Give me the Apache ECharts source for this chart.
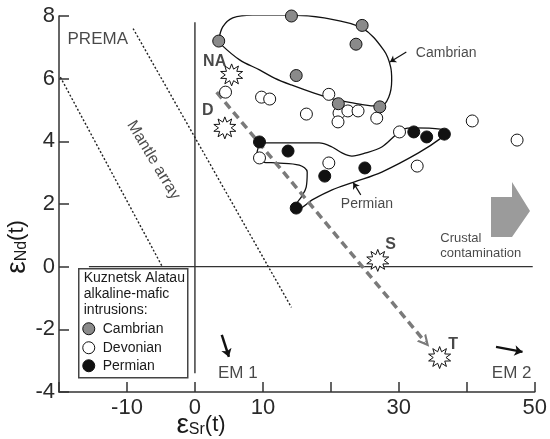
<!DOCTYPE html>
<html>
<head>
<meta charset="utf-8">
<script src="https://cdn.jsdelivr.net/npm/echarts@6/dist/echarts.min.js"></script>
<style>
  html, body { margin: 0; padding: 0; background: #fff; }
  #chart { width: 550px; height: 439px; }
</style>
</head>
<body>
<div id="chart"></div>
<script>
// eSr(t) / eNd(t) values
const cambrian = [[3.5, 7.2], [14.2, 8.0], [14.9, 6.1], [24.6, 7.7], [23.7, 7.1], [21.1, 5.2], [27.2, 5.1]];
const devonian = [
    [4.5, 5.57], [9.8, 5.41], [11.0, 5.35], [16.4, 4.87], [19.7, 5.5], [21.2, 4.9], [22.5, 4.97],
    [24.0, 4.97], [21.05, 4.62], [26.75, 4.74], [30.1, 4.3], [40.8, 4.65], [47.4, 4.04],
    [32.7, 3.21], [19.7, 3.31], [9.5, 3.47]
];
const permian = [[9.5, 3.98], [13.7, 3.69], [14.9, 1.87], [19.1, 2.89], [25.0, 3.15], [32.2, 4.3], [34.1, 4.14], [36.7, 4.23]];

// outlines of the Cambrian and Permian fields
const cambrianField = [
    [3.51, 7.23], [4.09, 7.65], [5.56, 7.94], [8.48, 8.03], [11.7, 8.03], [14.18, 8.03], [19.01, 7.94],
    [24.56, 7.62], [27.78, 6.91], [28.8, 6.37], [28.95, 5.96], [28.51, 5.41], [27.34, 5.13], [26.32, 5.13],
    [23.39, 5.22], [20.91, 5.32], [17.54, 5.54], [14.18, 5.8], [11.7, 6.02], [9.5, 6.28], [6.58, 6.6],
    [3.95, 7.07], [3.51, 7.23]
];
const permianField = [
    [9.5, 3.95], [13.89, 3.95], [18.27, 3.95], [20.18, 3.82], [21.64, 3.63], [23.1, 3.53], [25.15, 3.63],
    [27.49, 3.82], [29.53, 4.2], [30.7, 4.39], [32.16, 4.43], [36.11, 4.39], [36.84, 4.27], [36.26, 4.11],
    [32.89, 3.63], [27.49, 3.02], [23.39, 2.7], [20.18, 2.45], [17.25, 2.13], [15.35, 1.87], [14.91, 1.97],
    [15.64, 2.22], [16.37, 2.54], [16.52, 3.02], [15.35, 3.24], [11.99, 3.31], [9.94, 3.34], [9.06, 3.5],
    [9.5, 3.95]
];

// mantle array bounds and reference lines
const mantleLow = [[-19.8, 6.05], [-4.8, 0]];
const mantleHigh = [[-9.1, 7.6], [14.2, -1.3]];
const zeroSr = [[0, 7.8], [0, -3.4]];
const zeroNd = [[-15.6, 0], [49.7, 0]];

// end members (stars)
const endMembers = [['NA', 5.4, 6.12], ['D', 4.4, 4.43], ['S', 26.9, 0.2], ['T', 36.0, -2.9]];

// arrows: [from, to]
const trendArrow = [[3.2, 5.57], [33.9, -2.41]];
const em1Arrow = [[3.95, -2.18], [5.0, -2.88]];
const em2Arrow = [[44.3, -2.56], [48.2, -2.72]];
const cambrianPointer = [[31.1, 6.85], [28.7, 6.53]];
const permianPointer = [[24.4, 2.29], [23.3, 2.68]];

const xTickLabels = ['-10', '0', '10', '30', '50'];

const font = 'Liberation Sans, Arial, sans-serif';
const ink = '#1a1a1a';

// text annotations, anchored in data space
const notes = [
    { text: 'PREMA', at: [-14.3, 7.27], size: 17 },
    { text: 'Mantle array', at: [-6.1, 3.4], size: 16, rotate: -59 },
    { text: 'Cambrian', at: [32.5, 6.82], size: 14, align: 'left' },
    { text: 'Permian', at: [25.3, 2.0], size: 14 },
    { text: 'Crustal\ncontamination', at: [36.1, 0.67], size: 13, align: 'left', lineHeight: 15 },
    { text: 'EM 1', at: [6.3, -3.4], size: 17 },
    { text: 'EM 2', at: [46.6, -3.4], size: 17 },
    { text: 'NA', at: [2.9, 6.56], size: 16, bold: true },
    { text: 'D', at: [1.9, 4.97], size: 16, bold: true },
    { text: 'S', at: [28.8, 0.72], size: 16, bold: true },
    { text: 'T', at: [38.0, -2.5], size: 16, bold: true }
];

const starPath = (points, inner) => {
    let d = '';
    for (let i = 0; i < points * 2; i++) {
        const a = Math.PI * i / points - Math.PI / 2;
        const r = i % 2 ? inner : 1;
        d += (i ? 'L' : 'M') + (10 + 10 * r * Math.cos(a)).toFixed(2) + ',' + (10 + 10 * r * Math.sin(a)).toFixed(2);
    }
    return 'path://' + d + 'Z';
};
const chevron = 'path://M0,11 L6,0 L12,11 L9.6,11 L6,4.4 L2.4,11 Z';

const polyline = (data, style) => ({
    type: 'line',
    data: data,
    showSymbol: false,
    symbol: 'none',
    silent: true,
    lineStyle: style,
    z: 2
});

const arrow = (coords, color, width, head, size) => ({
    type: 'lines',
    coordinateSystem: 'cartesian2d',
    silent: true,
    symbol: ['none', head],
    symbolSize: size,
    lineStyle: { color: color, width: width, opacity: 1, type: 'solid' },
    data: [{ coords: coords }],
    z: 3
});

const dots = (data, fill) => ({
    type: 'scatter',
    data: data,
    symbol: 'circle',
    symbolSize: 12,
    silent: true,
    itemStyle: { color: fill, borderColor: '#111', borderWidth: 1, opacity: 1 },
    z: 5
});

const chart = echarts.init(document.getElementById('chart'));

const trend = arrow(trendArrow, '#7a7a7a', 3.5, chevron, [13, 12]);
trend.lineStyle.type = [8, 5];

const axisTitle = (sub) => ({
    text: '{e|ε}{s|' + sub + '}{p|(t)}', align: 'center', verticalAlign: 'middle', fill: ink,
    rich: {
        e: { fontSize: 28, fontFamily: font, fill: ink },
        s: { fontSize: 16, fontFamily: font, fill: ink, padding: [10, 0, 0, 0] },
        p: { fontSize: 22, fontFamily: font, fill: ink }
    }
});

const legendText = (text, x, y) => ({
    type: 'text', x: x, y: y,
    style: { text: text, fontSize: 14, fontFamily: font, fill: ink, verticalAlign: 'middle' }
});

chart.setOption({
    animation: false,
    grid: { left: 59, right: 13, top: 16, bottom: 47 },
    xAxis: {
        type: 'value',
        min: -20,
        max: 50,
        interval: 10,
        splitLine: { show: false },
        axisLine: { onZero: false, lineStyle: { color: '#333', width: 1.5 } },
        axisTick: { inside: true, length: 10, lineStyle: { color: '#333', width: 1.5 } },
        axisLabel: {
            margin: 5,
            fontSize: 22,
            fontFamily: font,
            color: '#2a2a2a',
            formatter: v => xTickLabels.includes(String(v)) ? String(v) : ''
        }
    },
    yAxis: {
        type: 'value',
        min: -4,
        max: 8,
        interval: 2,
        splitLine: { show: false },
        axisLine: { onZero: false, lineStyle: { color: '#333', width: 1.5 } },
        axisTick: { inside: true, length: 10, lineStyle: { color: '#333', width: 1.5 } },
        axisLabel: { margin: 4, fontSize: 22, fontFamily: font, color: '#2a2a2a' }
    },
    graphic: [
        { type: 'text', x: 17, y: 247, rotation: Math.PI / 2, style: axisTitle('Nd') },
        { type: 'text', x: 201, y: 425, style: axisTitle('Sr') },
        // crustal contamination arrow
        {
            type: 'polygon',
            shape: { points: [[491, 197], [512, 197], [512, 182], [530, 211], [512, 237], [491, 237]] },
            style: { fill: '#9b9b9b' },
            z: 1
        },
        // legend box
        {
            type: 'group', left: 78, top: 268,
            children: [
                { type: 'rect', shape: { x: 0, y: 0, width: 109, height: 109 }, style: { fill: '#fff', stroke: '#444', lineWidth: 1.5 } },
                legendText('Kuznetsk Alatau', 5, 9),
                legendText('alkaline-mafic', 5, 25),
                legendText('intrusions:', 5, 41),
                { type: 'circle', shape: { cx: 10, cy: 60, r: 6 }, style: { fill: '#8a8a8a', stroke: '#111', lineWidth: 1 } },
                { type: 'circle', shape: { cx: 10, cy: 79, r: 6 }, style: { fill: '#fff', stroke: '#111', lineWidth: 1 } },
                { type: 'circle', shape: { cx: 10, cy: 97, r: 6 }, style: { fill: '#111', stroke: '#111', lineWidth: 1 } },
                legendText('Cambrian', 24, 60),
                legendText('Devonian', 24, 79),
                legendText('Permian', 24, 97)
            ],
            z: 10
        }
    ],
    series: [
        polyline(zeroSr, { color: '#222', width: 1.3 }),
        polyline(zeroNd, { color: '#333', width: 1.3 }),
        polyline(mantleLow, { color: '#222', width: 1.4, type: [2, 2] }),
        polyline(mantleHigh, { color: '#222', width: 1.4, type: [2, 2] }),
        Object.assign(polyline(cambrianField, { color: '#111', width: 1.3 }), { smooth: 0.35 }),
        Object.assign(polyline(permianField, { color: '#111', width: 1.3 }), { smooth: 0.35 }),
        trend,
        arrow(em1Arrow, '#111', 2.5, 'arrow', 8),
        arrow(em2Arrow, '#111', 2.5, 'arrow', 8),
        arrow(cambrianPointer, '#111', 1.2, 'arrow', 6),
        arrow(permianPointer, '#111', 1.2, 'arrow', 6),
        dots(devonian, '#fff'),
        dots(cambrian, '#8a8a8a'),
        dots(permian, '#111'),
        {
            type: 'scatter',
            data: endMembers.map(d => [d[1], d[2]]),
            symbol: starPath(10, 0.55),
            symbolSize: 22,
            silent: true,
            itemStyle: { color: '#fff', borderColor: '#111', borderWidth: 1, opacity: 1 },
            z: 6
        },
        {
            type: 'scatter',
            symbolSize: 0,
            silent: true,
            z: 7,
            data: notes.map(n => ({
                value: n.at,
                label: {
                    show: true,
                    position: 'inside',
                    formatter: n.text,
                    fontSize: n.size,
                    fontFamily: font,
                    fontWeight: n.bold ? 'bold' : 'normal',
                    color: ink,
                    textBorderWidth: 0,
                    align: n.align || 'center',
                    rotate: n.rotate || 0,
                    lineHeight: n.lineHeight || n.size + 2
                }
            }))
        }
    ]
});
</script>
</body>
</html>
